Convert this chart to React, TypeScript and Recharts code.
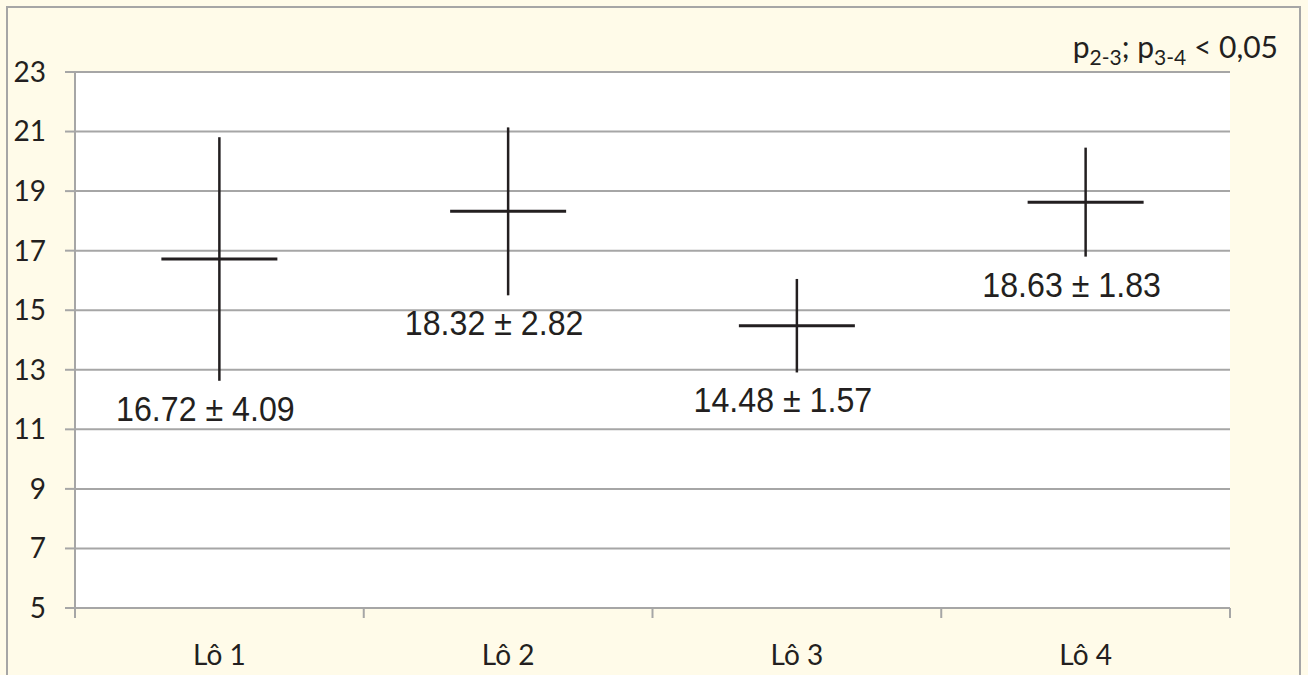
import React from "react";
import { ComposedChart, Line, ErrorBar, XAxis, YAxis, CartesianGrid, LabelList } from "recharts";

const groups = ["Lô 1", "Lô 2", "Lô 3", "Lô 4"];
const means = [16.72, 18.32, 14.48, 18.63];
const sds = [4.09, 2.82, 1.57, 1.83];
const yTicks = [5, 7, 9, 11, 13, 15, 17, 19, 21, 23];

const data = groups.map((name, i) => ({
  name,
  x: i + 0.5,
  mean: means[i],
  sd: sds[i],
  low: means[i] - sds[i],
  label: `${means[i].toFixed(2)} ± ${sds[i].toFixed(2)}`,
}));

const INK = "#231f20";
const GRID = "#a6a6a6";
const AXIS_FONT = "Lato, 'Open Sans', sans-serif";
const VALUE_FONT = "'Liberation Sans', Arial, sans-serif";

// horizontal stroke marking the group mean
const MeanMark = (props: any) => {
  const { cx, cy } = props;
  if (cx == null || cy == null) return null;
  return <line x1={cx - 58} x2={cx + 58} y1={cy} y2={cy} stroke={INK} strokeWidth={3} />;
};

// boundary ticks on whole numbers, group names at half steps
const XTick = (props: any) => {
  const { x, y, payload } = props;
  const v = payload.value as number;
  if (Number.isInteger(v)) {
    return <line x1={x} x2={x} y1={y - 8} y2={y + 2} stroke={GRID} strokeWidth={2} />;
  }
  const idx = Math.floor(v);
  return (
    <text x={x} y={y + 49} textAnchor="middle" fontSize={28} fontFamily={AXIS_FONT} fill={INK}>
      {groups[idx]}
    </text>
  );
};

// mean ± sd text hanging under the lower end of each bar (slightly condensed)
const ValueLabel = (props: any) => {
  const { x, y, index } = props;
  return (
    <text
      transform={`translate(${x - 14},${y + 40}) scale(0.92,1)`}
      textAnchor="middle"
      fontSize={35}
      fontFamily={VALUE_FONT}
      fill={INK}
    >
      {data[index].label}
    </text>
  );
};

export default function App() {
  return (
    <div style={{ position: "fixed", left: 0, top: 0, width: 1308, height: 675, background: "#fffbe9", overflow: "hidden" }}>
      <div
        style={{
          position: "absolute",
          left: 6,
          top: 6,
          width: 1295,
          height: 700,
          border: "2px solid #a6a6a6",
          boxSizing: "border-box",
        }}
      />
      <div style={{ position: "absolute", left: 0, top: 0 }}>
        <ComposedChart width={1308} height={675} data={data} margin={{ top: 72, right: 78, left: 0, bottom: 17 }}>
          <CartesianGrid vertical={false} fill="#ffffff" stroke={GRID} strokeWidth={2} />
          <XAxis
            dataKey="x"
            type="number"
            domain={[0, 4]}
            ticks={[0, 0.5, 1, 1.5, 2, 2.5, 3, 3.5, 4]}
            interval={0}
            height={50}
            axisLine={{ stroke: GRID, strokeWidth: 2 }}
            tickLine={false}
            tick={<XTick />}
          />
          <YAxis
            type="number"
            domain={[5, 23]}
            ticks={yTicks}
            interval={0}
            width={75}
            tickSize={10}
            tickMargin={19}
            axisLine={{ stroke: GRID, strokeWidth: 2 }}
            tickLine={{ stroke: GRID, strokeWidth: 2 }}
            tick={{ fontSize: 28, fontFamily: AXIS_FONT, fill: INK }}
          />
          <Line dataKey="mean" stroke="none" dot={<MeanMark />} activeDot={false} isAnimationActive={false}>
            <ErrorBar dataKey="sd" width={0} stroke={INK} strokeWidth={2.5} direction="y" />
          </Line>
          <Line dataKey="low" stroke="none" dot={false} activeDot={false} isAnimationActive={false}>
            <LabelList dataKey="label" content={<ValueLabel />} />
          </Line>
        </ComposedChart>
      </div>
      <svg width={1308} height={80} style={{ position: "absolute", left: 0, top: 0 }}>
        <text x={1278} y={58} textAnchor="end" fontSize={30} fontFamily={AXIS_FONT} fill={INK}>
          p<tspan fontSize={21} dy={7}>2-3</tspan>
          <tspan dy={-7}>; p</tspan>
          <tspan fontSize={21} dy={7}>3-4</tspan>
          <tspan dy={-7}> &lt; 0,05</tspan>
        </text>
      </svg>
    </div>
  );
}
